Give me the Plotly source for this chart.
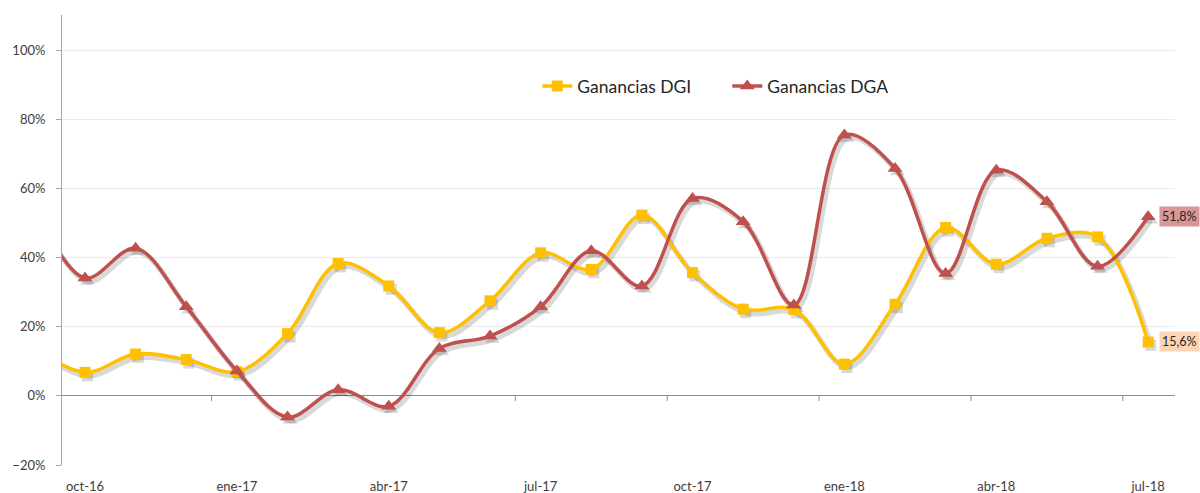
import plotly.graph_objects as go

months = ["sep-16", "oct-16", "nov-16", "dic-16", "ene-17", "feb-17", "mar-17", "abr-17",
          "may-17", "jun-17", "jul-17", "ago-17", "sep-17", "oct-17", "nov-17", "dic-17",
          "ene-18", "feb-18", "mar-18", "abr-18", "may-18", "jun-18", "jul-18"]

dgi = [14.0, 6.8, 12.1, 10.5, 7.0, 18.0, 38.3, 31.8, 18.3, 27.5, 41.4, 36.6, 52.3,
       35.7, 25.1, 25.0, 9.2, 26.5, 48.7, 38.1, 45.6, 46.0, 15.6]
dga = [55.0, 34.1, 42.7, 25.8, 7.2, -6.1, 1.8, -3.0, 13.7, 17.3, 25.8, 42.0, 31.8,
       57.1, 50.4, 26.3, 75.5, 65.8, 35.4, 65.3, 56.2, 37.5, 51.8]

name_dgi = "Ganancias DGI"
name_dga = "Ganancias DGA"
col_dgi = "#FFC000"
col_dga = "#C0504D"

quarter_months = ("oct", "ene", "abr", "jul")
tick_labels = [m for m in months[1:] if m.split("-")[0] in quarter_months]

x_range = [0.546, 22.53]
y_range = [-20, 110.2]
dx, dy = 0.05, 1.0  # shadow offset in axis units
FONT = "Lato, Carlito, Calibri, sans-serif"

fig = go.Figure()

# shadows (base axes, shifted ranges)
for ys, sym, sz in [(dgi, "square", 11), (dga, "triangle-up", 13)]:
    fig.add_trace(go.Scatter(
        x=months, y=ys, mode="lines+markers", xaxis="x", yaxis="y",
        line=dict(color="rgba(0,0,0,0.15)", width=5.5, shape="spline", smoothing=1),
        marker=dict(symbol=sym, size=sz, color="rgba(0,0,0,0.15)"),
        showlegend=False, hoverinfo="skip"))

# main traces
fig.add_trace(go.Scatter(
    x=months, y=dgi, mode="lines+markers", name=name_dgi, xaxis="x2", yaxis="y2",
    line=dict(color=col_dgi, width=3.5, shape="spline", smoothing=1),
    marker=dict(symbol="square", size=11, color=col_dgi)))
fig.add_trace(go.Scatter(
    x=months, y=dga, mode="lines+markers", name=name_dga, xaxis="x2", yaxis="y2",
    line=dict(color=col_dga, width=3.5, shape="spline", smoothing=1),
    marker=dict(symbol="triangle-up", size=13, color=col_dga)))

# quarter tick marks on the zero line (category boundaries)
shapes = []
for i, m in enumerate(months):
    if i > 0 and m.split("-")[0] in ("ene", "abr", "jul", "oct"):
        b = i - 0.5
        if x_range[0] <= b <= x_range[1]:
            shapes.append(dict(type="line", xref="x2", yref="y2", x0=b, x1=b, y0=0, y1=-1.5,
                               line=dict(color="#8C8C8C", width=1), layer="below"))

def fmt(v):
    return f"{v:.1f}%".replace(".", ",")

annotations = [
    dict(x=months[-1], y=dga[-1], xref="x2", yref="y2", text=fmt(dga[-1]), showarrow=False,
         xanchor="left", xshift=11, bgcolor="#D99694", borderpad=2,
         font=dict(family=FONT, size=12.5, color="#262626")),
    dict(x=months[-1], y=dgi[-1], xref="x2", yref="y2", text=fmt(dgi[-1]), showarrow=False,
         xanchor="left", xshift=11, bgcolor="#FCD5B5", borderpad=2,
         font=dict(family=FONT, size=12.5, color="#262626")),
]

fig.update_layout(
    width=1200, height=493,
    margin=dict(l=62, r=25, t=15, b=28, autoexpand=False),
    paper_bgcolor="white", plot_bgcolor="white",
    font=dict(family=FONT, size=13, color="#404040"),
    showlegend=True,
    legend=dict(orientation="h", x=0.427, y=0.842, xanchor="left", yanchor="middle",
                font=dict(family=FONT, size=17.5, color="#262626"),
                bgcolor="rgba(0,0,0,0)", itemwidth=30,
                entrywidth=145, entrywidthmode="pixels"),
    xaxis=dict(type="category", categoryorder="array", categoryarray=months,
               range=[x_range[0] - dx, x_range[1] - dx], visible=False, automargin=False),
    yaxis=dict(range=[y_range[0] + dy, y_range[1] + dy], visible=False, automargin=False),
    xaxis2=dict(type="category", categoryorder="array", categoryarray=months,
                overlaying="x", anchor="y2", range=x_range, automargin=False,
                tickmode="array", tickvals=tick_labels, ticktext=tick_labels,
                ticks="outside", ticklen=9, tickcolor="rgba(0,0,0,0)",
                showgrid=False, zeroline=False, showline=False,
                tickfont=dict(family=FONT, size=13, color="#404040")),
    yaxis2=dict(overlaying="y", anchor="x2", side="left", range=y_range, automargin=False,
                tick0=0, dtick=20, ticksuffix="%",
                showgrid=True, gridcolor="#EBEBEB", gridwidth=1,
                zeroline=True, zerolinecolor="#8C8C8C", zerolinewidth=1,
                showline=True, linecolor="#A6A6A6", linewidth=1,
                ticks="outside", ticklen=5, tickcolor="#A6A6A6",
                ticklabelstandoff=8,
                tickfont=dict(family=FONT, size=13, color="#404040")),
    shapes=shapes,
    annotations=annotations,
)

fig.write_html("out.html", config={"displayModeBar": False},
               post_script="document.body.style.margin='0';document.body.style.overflow='hidden';")
